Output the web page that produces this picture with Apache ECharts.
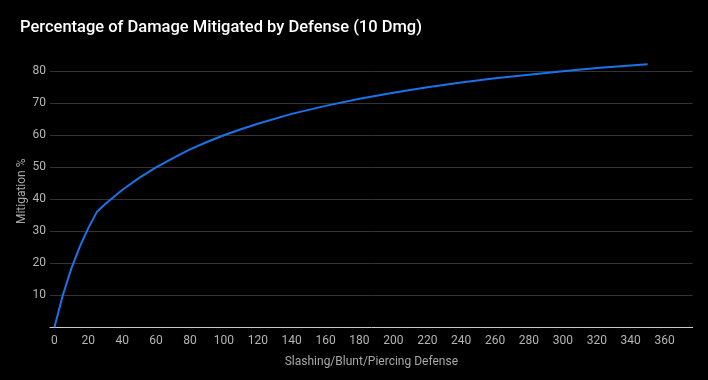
<!DOCTYPE html>
<html>
<head>
<meta charset="utf-8">
<script src="https://cdn.jsdelivr.net/npm/echarts@6/dist/echarts.min.js"></script>
<style>html,body{margin:0;padding:0;background:#000;}#c{width:708px;height:380px;}</style>
</head>
<body>
<div id="c"></div>
<script>
const titleText = "Percentage of Damage Mitigated by Defense (10 Dmg)";
const xAxisName = "Slashing/Blunt/Piercing Defense";
const yAxisName = "Mitigation %";
const defense = [0, 5, 10, 15, 20, 25, 30, 40, 50, 60, 70, 80, 90, 100, 110, 120, 140, 160, 180, 200, 220, 240, 260, 280, 300, 320, 340, 350];
const mitigation = [0, 10.1, 18.4, 25.2, 31.0, 36.0, 38.5, 42.9, 46.7, 50.0, 52.9, 55.6, 57.9, 60.0, 61.9, 63.6, 66.7, 69.2, 71.4, 73.3, 75.0, 76.5, 77.8, 78.9, 80.0, 81.0, 81.8, 82.2];
const xTicks = [0, 20, 40, 60, 80, 100, 120, 140, 160, 180, 200, 220, 240, 260, 280, 300, 320, 340, 360];
const yTicks = [10, 20, 30, 40, 50, 60, 70, 80];

const chart = echarts.init(document.getElementById('c'), null, {renderer: 'canvas'});
chart.setOption({
  backgroundColor: '#000000',
  animation: false,
  title: {
    text: titleText,
    left: 15, top: 14,
    textStyle: {color: '#ffffff', fontFamily: 'Roboto', fontWeight: 500, fontSize: 16.5}
  },
  grid: {left: 50, right: 15.3, top: 55.3, bottom: 52.7, containLabel: false},
  xAxis: {
    type: 'value',
    min: -2.6, max: 376.6,
    name: xAxisName,
    nameLocation: 'middle',
    nameGap: 29,
    nameMoveOverlap: false,
    nameTextStyle: {color: '#a8a8a8', fontFamily: 'Roboto', fontSize: 12},
    axisLine: {show: true, lineStyle: {color: '#cccccc', width: 1}},
    axisTick: {show: false, customValues: xTicks},
    axisLabel: {customValues: xTicks, color: '#b4b4b4', fontFamily: 'Roboto', fontSize: 12, margin: 8},
    splitLine: {show: false}
  },
  yAxis: {
    type: 'value',
    min: 0, max: 85, interval: 10,
    name: yAxisName,
    nameLocation: 'middle',
    nameGap: 22,
    nameMoveOverlap: false,
    nameTextStyle: {color: '#a8a8a8', fontFamily: 'Roboto', fontSize: 12},
    axisLine: {show: false},
    axisTick: {show: false},
    axisLabel: {
      color: '#b4b4b4', fontFamily: 'Roboto', fontSize: 12, margin: 4,
      formatter: v => yTicks.indexOf(v) >= 0 ? String(v) : ''
    },
    splitLine: {show: true, showMinLine: false, showMaxLine: false, lineStyle: {color: '#333333', width: 1}}
  },
  series: [{
    type: 'line',
    data: defense.map((d, i) => [d, mitigation[i]]),
    showSymbol: false,
    smooth: false,
    clip: false,
    lineStyle: {color: '#1a73e8', width: 2},
    itemStyle: {color: '#1a73e8'}
  }]
});
</script>
</body>
</html>
